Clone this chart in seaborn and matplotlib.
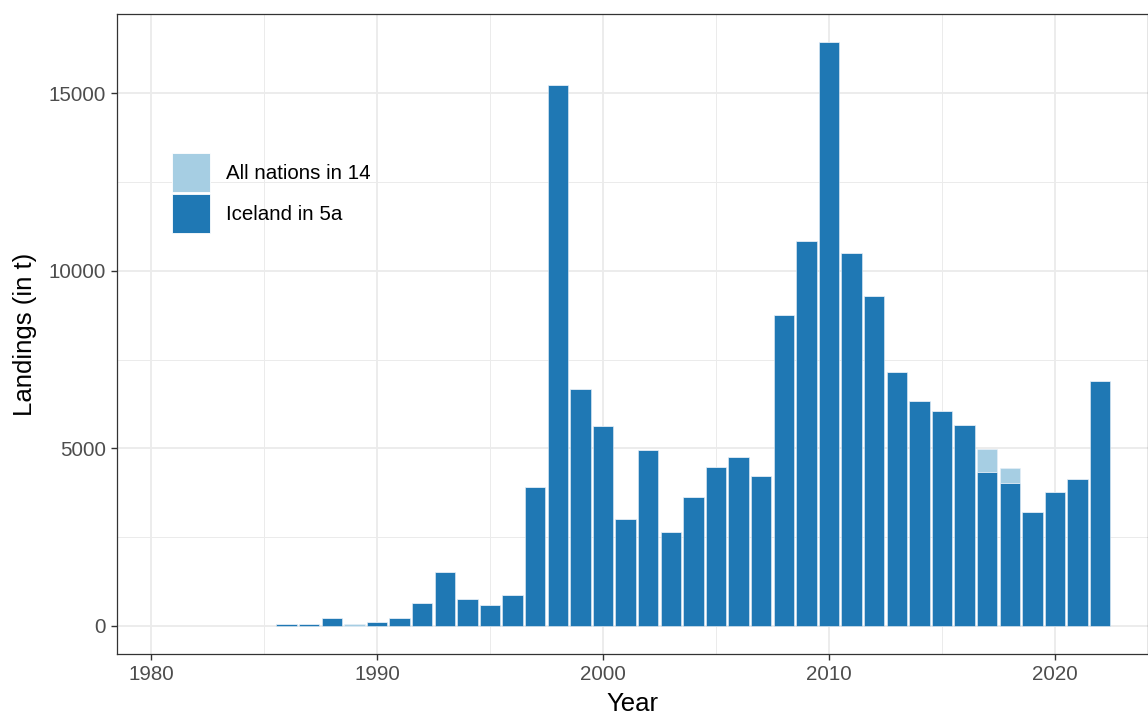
import numpy as np
import pandas as pd
import matplotlib
matplotlib.use("Agg")
import matplotlib.pyplot as plt
from matplotlib.patches import Patch
from matplotlib.ticker import MultipleLocator
import seaborn as sns

years = list(range(1986, 2023))
iceland_5a = [70, 55, 235, 0, 100, 235, 648, 1521, 751, 582, 883, 3915,
              15230, 6668, 5643, 3023, 4949, 2657, 3643, 4470, 4770, 4216,
              8770, 10836, 16450, 10516, 9287, 7155, 6347, 6065, 5660,
              4350, 4020, 3200, 3785, 4140, 6893]
all_nations_14 = [0, 0, 0, 45, 0, 0, 0, 0, 0, 0, 0, 0,
                  0, 0, 0, 0, 0, 0, 0, 0, 0, 0,
                  0, 0, 0, 0, 0, 0, 0, 0, 0,
                  645, 430, 0, 0, 0, 0]
series_names = ["All nations in 14", "Iceland in 5a"]
colors = ["#A6CEE3", "#1F78B4"]

df = pd.concat([
    pd.DataFrame({"Year": years, "Landings": all_nations_14, "Area": series_names[0]}),
    pd.DataFrame({"Year": years, "Landings": iceland_5a, "Area": series_names[1]}),
])
df = df[df["Landings"] > 0]

sns.set_theme(style="white")
plt.rcParams["font.family"] = ["Liberation Sans", "DejaVu Sans"]

fig = plt.figure(figsize=(11.48, 7.17), dpi=100)
ax = fig.add_axes([117 / 1148, (717 - 654) / 717, 1 - 117 / 1148, 640 / 717])

sns.histplot(data=df, x="Year", weights="Landings", hue="Area",
             hue_order=series_names, palette=colors, multiple="stack",
             discrete=True, shrink=0.9, alpha=1, edgecolor="#E8F0F8",
             linewidth=0.4, legend=False, ax=ax)

ax.set_xlim(1978.496, 2024.115)
ax.set_ylim(-789, 17239)
ax.xaxis.set_major_locator(MultipleLocator(10))
ax.xaxis.set_minor_locator(MultipleLocator(5))
ax.yaxis.set_major_locator(MultipleLocator(5000))
ax.yaxis.set_minor_locator(MultipleLocator(2500))
ax.grid(True, which="major", color="#EBEBEB", linewidth=1.3)
ax.grid(True, which="minor", color="#EBEBEB", linewidth=0.7)
ax.set_axisbelow(True)

for s in ax.spines.values():
    s.set_visible(True)
    s.set_color("#333333")
    s.set_linewidth(0.9)

ax.tick_params(axis="both", which="major", direction="out", length=4.5,
               width=1.0, color="#333333", labelsize=14.8,
               labelcolor="#4D4D4D", pad=3.5)
ax.tick_params(axis="both", which="minor", length=0)
ax.tick_params(axis="x", bottom=True)
ax.tick_params(axis="y", left=True)

ax.set_xlabel("Year", fontsize=18.5, color="black", labelpad=6)
ax.set_ylabel("Landings (in t)", fontsize=18.5, color="black", labelpad=8)

handles = [Patch(facecolor=c, edgecolor="white", linewidth=0.6) for c in colors]
ax.legend(handles, series_names, loc="upper left",
          bbox_to_anchor=(0.0533, 0.783), frameon=False, fontsize=14.8,
          handlelength=1.85, handleheight=2.55, labelspacing=0.1,
          handletextpad=0.8, borderpad=0, borderaxespad=0,
          labelcolor="black")

fig.savefig("out.png", dpi=100)
